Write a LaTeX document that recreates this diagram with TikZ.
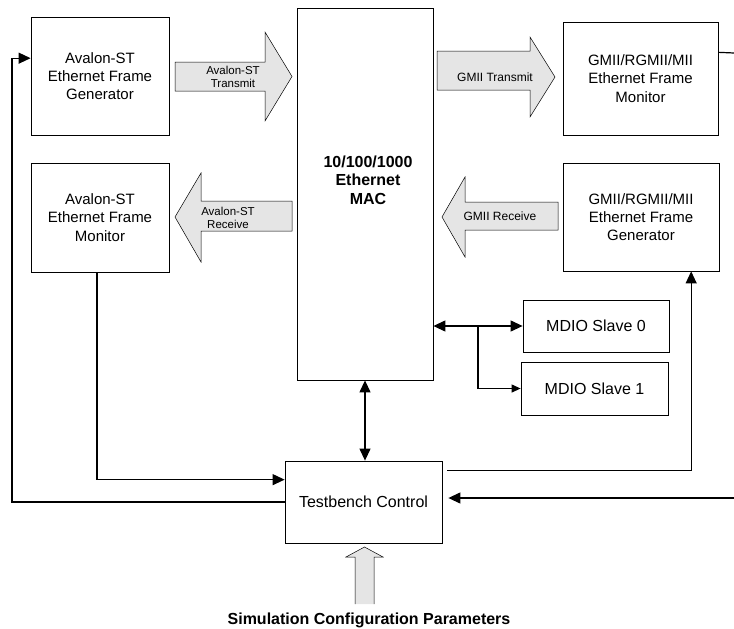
\documentclass[tikz,border=0pt]{standalone}
\usepackage{fontspec}
\setmainfont{Liberation Sans}
\usetikzlibrary{arrows.meta,calc}
\begin{document}
\begin{tikzpicture}[x=1pt,y=-1pt,
  box/.style={draw, line width=0.8pt, inner sep=0pt, align=center, font=\fontsize{15}{18.3}\selectfont},
  smallbox/.style={draw, line width=0.8pt, inner sep=0pt, align=center, font=\fontsize{16}{19}\selectfont},
  conn/.style={line width=1.2pt, -{Triangle[length=12pt,width=11pt]}},
  connsm/.style={line width=1.2pt, -{Triangle[length=9pt,width=8pt]}},
  biconn/.style={line width=1.2pt, {Triangle[length=12pt,width=11pt]}-{Triangle[length=12pt,width=11pt]}},
  plain/.style={line width=1.2pt},
  blockarrow/.style={draw, line width=0.5pt, fill=gray!20, line join=miter},
  arrowlbl/.style={inner sep=0pt, align=center, font=\fontsize{11.5}{13.5}\selectfont}]
\useasboundingbox (0,0) rectangle (734,629);

% boxes
\node[box, minimum width=138pt, minimum height=118pt] (agen) at (100,76) {Avalon-ST\\Ethernet Frame\\Generator};
\node[box, minimum width=138pt, minimum height=109pt] (amon) at (100,217.5) {Avalon-ST\\Ethernet Frame\\Monitor};
\node[box, minimum width=136pt, minimum height=372pt] (mac) at (365,194) {};
\node[inner sep=0pt, align=center, font=\bfseries\fontsize{16}{18.3}\selectfont] (maclbl) at (368,180) {10/100/1000\\Ethernet\\MAC};
\node[box, minimum width=155pt, minimum height=113pt] (gmon) at (640.5,78.5) {GMII/RGMII/MII\\Ethernet Frame\\Monitor};
\node[box, minimum width=156pt, minimum height=108pt] (ggen) at (641,217) {GMII/RGMII/MII\\Ethernet Frame\\Generator};
\node[smallbox, minimum width=146pt, minimum height=52pt] (mdio0) at (596,326) {MDIO Slave 0};
\node[smallbox, minimum width=147pt, minimum height=53pt] (mdio1) at (594.5,388.5) {MDIO Slave 1};
\node[smallbox, minimum width=157pt, minimum height=82pt] (tb) at (363.5,502) {Testbench Control};

% block arrows
\draw[blockarrow] (175,62) -- (265,62) -- (265,32) -- (292,76.5) -- (265,121) -- (265,91) -- (175,91) -- cycle;
\node[arrowlbl] (atxl) at (233,77) {Avalon-ST\\Transmit};
\draw[blockarrow] (292,201) -- (201,201) -- (201,173) -- (175,217) -- (201,262) -- (201,231) -- (292,231) -- cycle;
\node[arrowlbl] (arxl) at (228,218) {Avalon-ST\\Receive};
\draw[blockarrow] (437,51) -- (530,51) -- (530,37) -- (555,77) -- (530,117) -- (530,90) -- (437,90) -- cycle;
\node[arrowlbl, font=\fontsize{12}{13.5}\selectfont] (gtxl) at (495,77) {GMII Transmit};
\draw[blockarrow] (558,202) -- (465,202) -- (465,177) -- (442,217) -- (465,257) -- (465,230) -- (558,230) -- cycle;
\node[arrowlbl, font=\fontsize{12}{13.5}\selectfont] (grxl) at (500,216) {GMII Receive};
\path[fill=gray!20] (355,604) -- (355,557) -- (346,557) -- (364.5,547) -- (383,557) -- (374,557) -- (374,604) -- cycle;
\draw[line width=0.5pt, line join=miter] (355,604) -- (355,557) -- (346,557) -- (364.5,547) -- (383,557) -- (374,557) -- (374,604);
\node[inner sep=0pt, font=\bfseries\fontsize{16}{19}\selectfont] (simlbl) at (369,620) {Simulation Configuration Parameters};

% connectors
\draw[biconn] (mac.east |- mdio0.west) -- (mdio0.west);
\coordinate (br) at (478,326);
\draw[connsm] (br) |- (mdio1.west);
\draw[biconn] (mac.south) -- (mac.south |- tb.north);

\coordinate (tbin) at ($(tb.north west)!0.23!(tb.south west)$);
\draw[conn] ([xshift=-3pt]amon.south) |- (tbin);

\coordinate (agenin) at ($(agen.north west)!0.35!(agen.south west)$);
\coordinate (lx) at (12,0);
\draw[conn] (tb.west) -| (lx |- agenin) -- (agenin);

\coordinate (tbout) at ([xshift=5pt,yshift=-10pt]tb.north east);
\coordinate (ggenin) at ($(ggen.south west)!0.82!(ggen.south east)$);
\draw[conn] (tbout) -| (ggenin);

\coordinate (re1) at (734,53);
\draw[plain] ($(gmon.north east)!0.27!(gmon.south east)$) -- (re1);
\coordinate (re2) at (734,498);
\draw[conn] (re2) -- ([xshift=6pt]tb.east |- re2);
\end{tikzpicture}
\end{document}
